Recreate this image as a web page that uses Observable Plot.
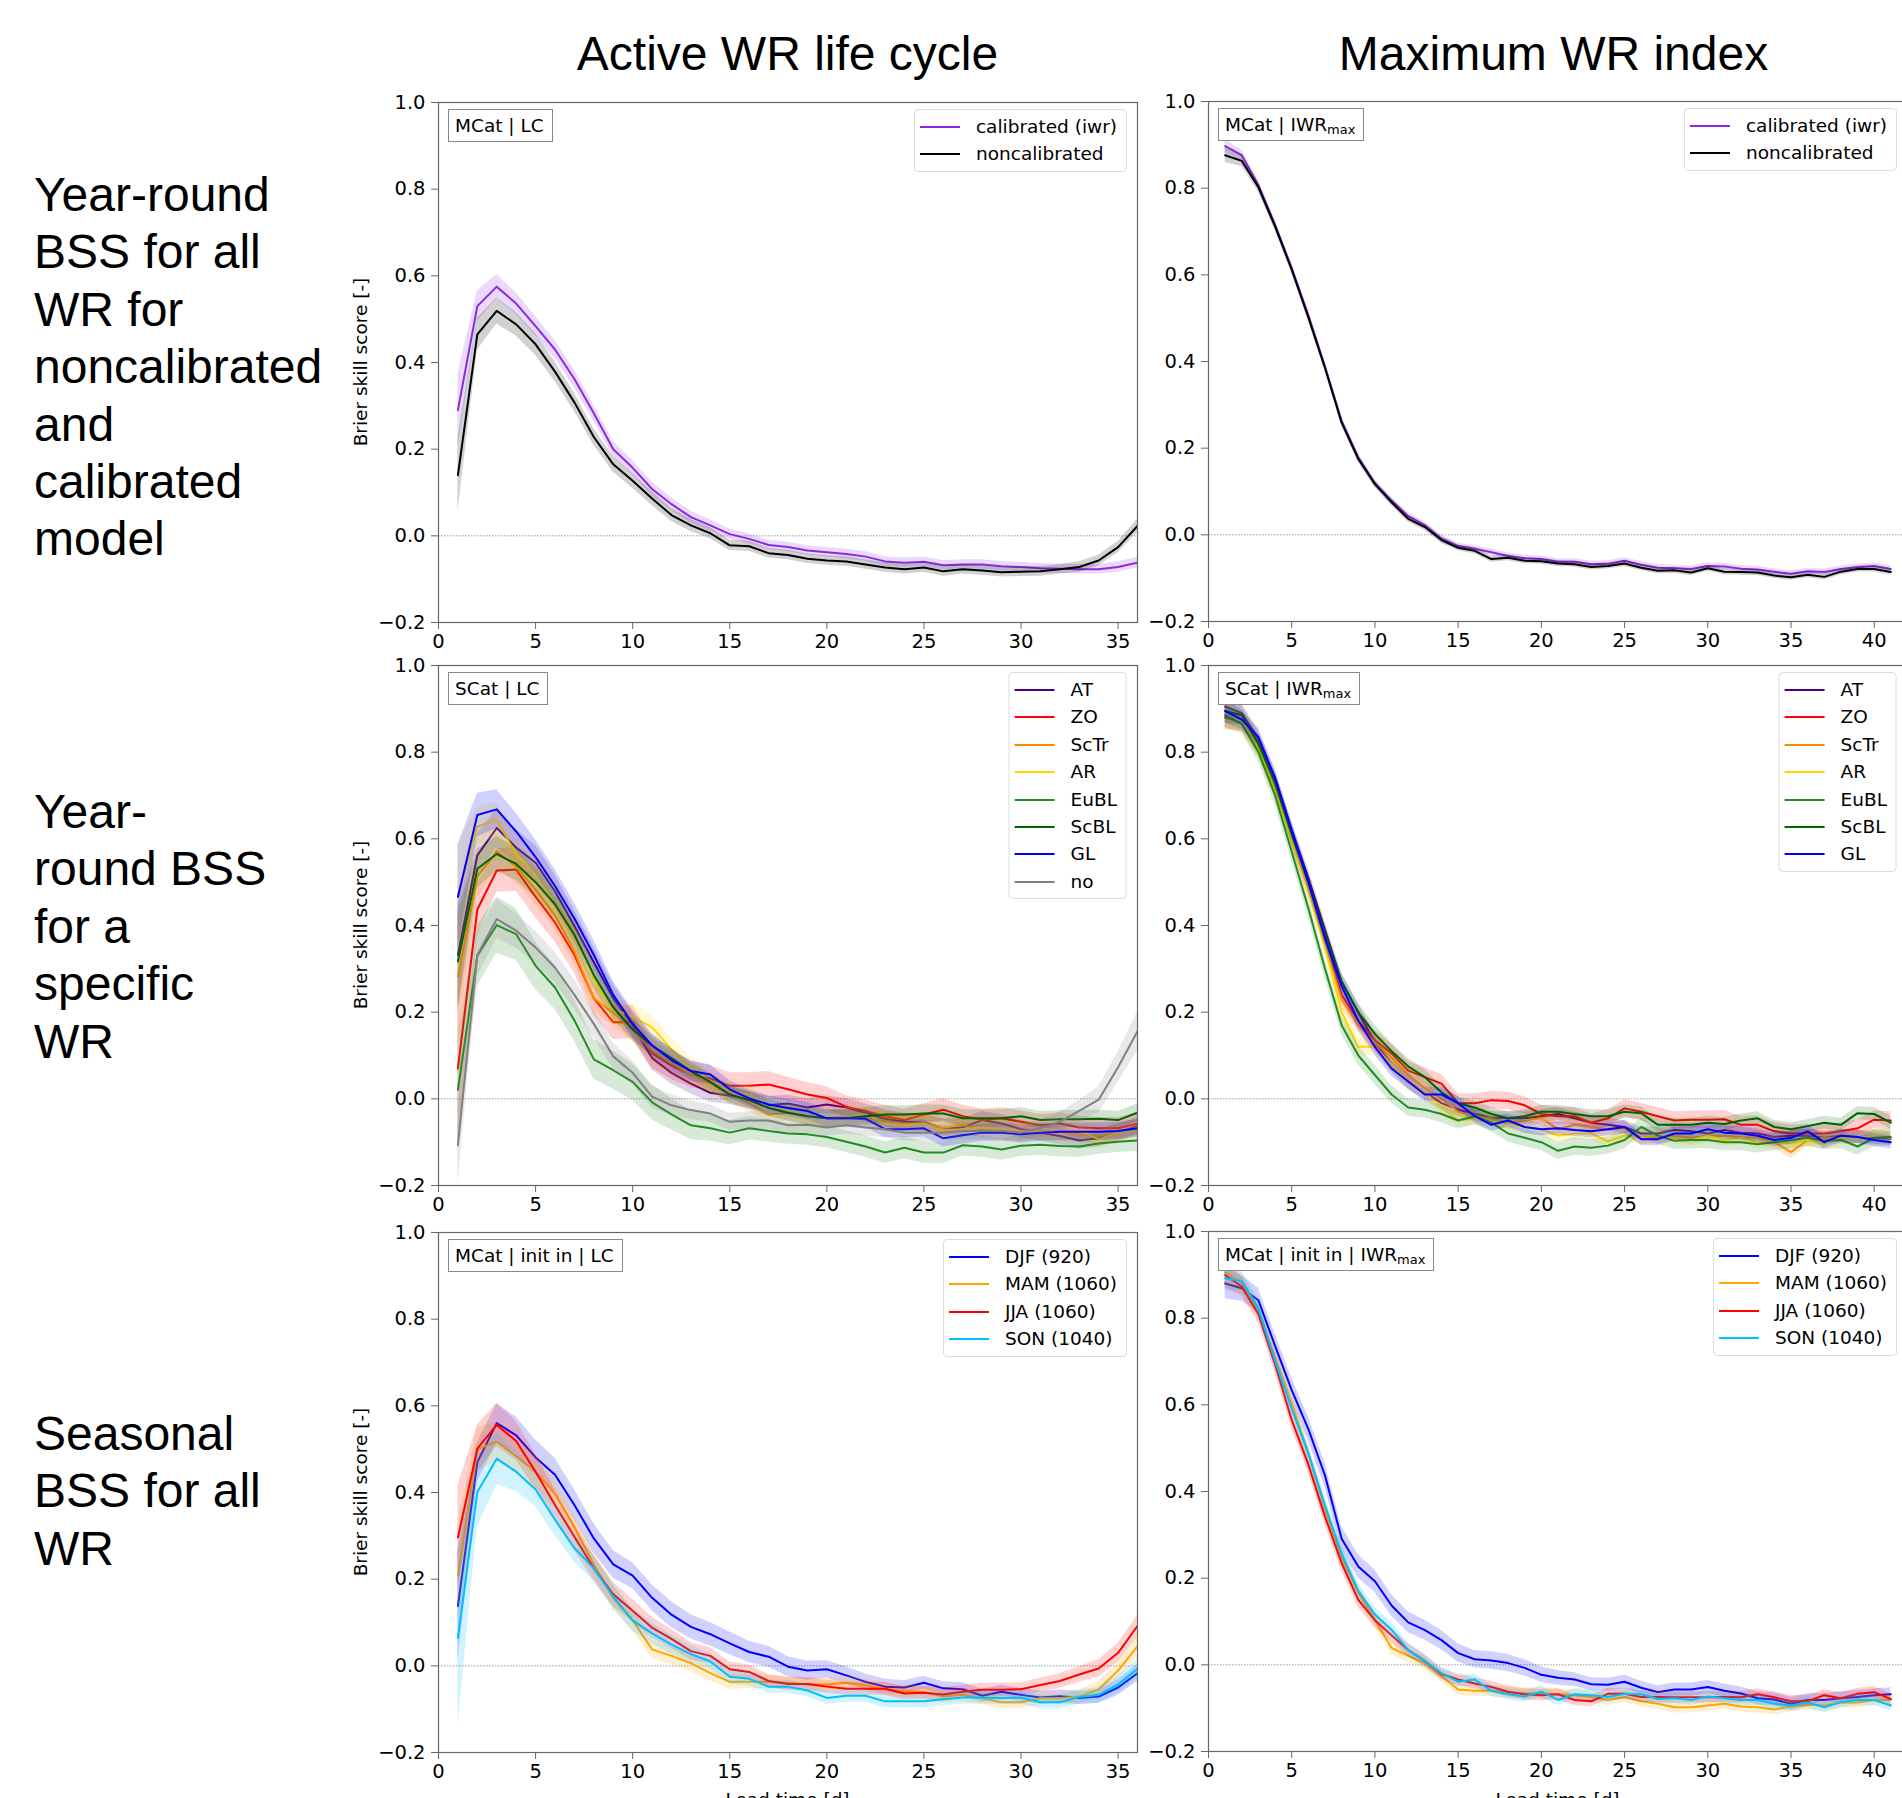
<!DOCTYPE html>
<html><head><meta charset="utf-8">
<script src="https://cdn.jsdelivr.net/npm/d3@7"></script>
<script src="https://cdn.jsdelivr.net/npm/@observablehq/plot@0.6"></script>
<style>
html,body{margin:0;padding:0;background:#fff;overflow:hidden;}
#fig{position:relative;width:1902px;height:1798px;overflow:hidden;background:#fff;font-family:"DejaVu Sans";color:#000;}
.abs{position:absolute;}
.title{font-family:"Liberation Sans";font-size:48px;line-height:48px;white-space:nowrap;transform:translateX(-50%);}
.rowlab{font-family:"Liberation Sans";font-size:48px;line-height:57.4px;white-space:nowrap;}
.note{border:1px solid #888;background:#fff;font-size:18.5px;line-height:21px;padding:5px 8px 5px 6px;white-space:nowrap;}
.note sub{font-size:13px;vertical-align:-3px;line-height:0;}
.legend{border:1px solid #dcdcdc;border-radius:4px;background:rgba(255,255,255,0.85);padding:3px 9px 3px 5px;font-size:18.5px;}
.legend .row{height:27.4px;line-height:27.4px;white-space:nowrap;}
.legend .sw{display:inline-block;width:40px;height:2px;vertical-align:middle;margin-right:16px;position:relative;top:-1px;}
.ylab{font-size:18.5px;white-space:nowrap;transform:translate(-50%,-50%) rotate(-90deg);}
.xlab{font-size:18.5px;line-height:18.5px;white-space:nowrap;transform:translateX(-50%);}
</style></head>
<body><div id="fig"></div>
<script>
// ---------------- data ----------------
const leadLC = [1,2,3,4,5,6,7,8,9,10,11,12,13,14,15,16,17,18,19,20,21,22,23,24,25,26,27,28,29,30,31,32,33,34,35,36];
const leadIWR = [1,2,3,4,5,6,7,8,9,10,11,12,13,14,15,16,17,18,19,20,21,22,23,24,25,26,27,28,29,30,31,32,33,34,35,36,37,38,39,40,41];
const xTicksLC = [0,5,10,15,20,25,30,35];
const xTicksIWR = [0,5,10,15,20,25,30,35,40];
const yTicks = [-0.2,0,0.2,0.4,0.6,0.8,1.0];

const colTitles = ["Active WR life cycle","Maximum WR index"];
const rowLabels = [
  ["Year-round","BSS for all","WR for","noncalibrated","and","calibrated","model"],
  ["Year-","round BSS","for a","specific","WR"],
  ["Seasonal","BSS for all","WR"]
];
const noteLC = ["MCat | LC","SCat | LC","MCat | init in | LC"];
const noteIWR = ["MCat | IWR<sub>max</sub>","SCat | IWR<sub>max</sub>","MCat | init in | IWR<sub>max</sub>"];
const yLabel = "Brier skill score [-]";
const xLabel = "Lead time [d]";

// Row 1: multi-category, calibrated vs noncalibrated
const calibNames = ["calibrated (iwr)","noncalibrated"];
const calibColors = ["#8a2be2","#000000"];
const lcCal = [0.29,0.53,0.575,0.536,0.484,0.43,0.362,0.283,0.2,0.157,0.108,0.073,0.043,0.024,0.004,-0.007,-0.021,-0.026,-0.034,-0.038,-0.042,-0.048,-0.059,-0.062,-0.06,-0.068,-0.066,-0.066,-0.07,-0.072,-0.075,-0.076,-0.077,-0.077,-0.072,-0.062];
const lcCalErr = [0.085,0.035,0.028,0.025,0.022,0.021,0.02,0.019,0.018,0.017,0.016,0.015,0.014,0.013,0.012,0.012,0.011,0.011,0.011,0.011,0.011,0.011,0.011,0.011,0.011,0.011,0.011,0.011,0.011,0.011,0.011,0.011,0.011,0.011,0.012,0.012];
const lcNon = [0.14,0.465,0.519,0.488,0.442,0.379,0.308,0.228,0.165,0.127,0.086,0.048,0.024,0.006,-0.022,-0.024,-0.04,-0.044,-0.053,-0.057,-0.059,-0.066,-0.073,-0.077,-0.073,-0.082,-0.077,-0.08,-0.084,-0.083,-0.082,-0.077,-0.072,-0.057,-0.026,0.023];
const lcNonErr = [0.085,0.037,0.03,0.027,0.025,0.023,0.021,0.019,0.018,0.017,0.016,0.015,0.014,0.013,0.012,0.012,0.011,0.011,0.011,0.011,0.011,0.011,0.011,0.011,0.011,0.011,0.011,0.011,0.011,0.011,0.011,0.011,0.012,0.012,0.013,0.015];
const iwrCal = [0.897,0.876,0.807,0.716,0.616,0.507,0.389,0.263,0.179,0.119,0.079,0.043,0.022,-0.009,-0.026,-0.032,-0.04,-0.049,-0.054,-0.056,-0.062,-0.062,-0.068,-0.067,-0.06,-0.069,-0.076,-0.077,-0.079,-0.072,-0.073,-0.078,-0.08,-0.085,-0.09,-0.084,-0.086,-0.079,-0.075,-0.072,-0.079];
const iwrCalErr = [0.015,0.012,0.01,0.01,0.009,0.009,0.008,0.008,0.008,0.008,0.008,0.008,0.008,0.008,0.007,0.007,0.007,0.007,0.007,0.007,0.007,0.007,0.007,0.007,0.007,0.007,0.007,0.007,0.007,0.007,0.007,0.007,0.007,0.007,0.007,0.007,0.007,0.007,0.007,0.007,0.007];
const iwrNon = [0.876,0.863,0.802,0.712,0.612,0.502,0.385,0.259,0.175,0.117,0.075,0.037,0.018,-0.012,-0.03,-0.037,-0.056,-0.053,-0.06,-0.061,-0.066,-0.068,-0.074,-0.072,-0.066,-0.076,-0.083,-0.082,-0.087,-0.077,-0.085,-0.086,-0.087,-0.094,-0.098,-0.092,-0.097,-0.085,-0.079,-0.079,-0.086];
const iwrNonErr = [0.017,0.013,0.011,0.01,0.009,0.009,0.008,0.008,0.008,0.008,0.008,0.008,0.008,0.008,0.007,0.007,0.007,0.007,0.007,0.007,0.007,0.007,0.007,0.007,0.007,0.007,0.007,0.007,0.007,0.007,0.007,0.007,0.007,0.007,0.007,0.007,0.007,0.007,0.007,0.007,0.007];

// Row 2: single category per weather regime
const regimeNames = ["AT","ZO","ScTr","AR","EuBL","ScBL","GL","no"];
const regimeColors = ["#4b0082","#ff0000","#ff8c00","#ffd700","#228b22","#006400","#0000ff","#808080"];
const lcAT = [0.332,0.562,0.625,0.58,0.545,0.479,0.399,0.315,0.232,0.169,0.094,0.06,0.035,0.014,0.007,-0.003,-0.015,-0.011,-0.02,-0.013,-0.02,-0.032,-0.046,-0.053,-0.055,-0.067,-0.066,-0.049,-0.057,-0.07,-0.078,-0.086,-0.096,-0.091,-0.078,-0.063];
const lcZO = [0.07,0.437,0.527,0.529,0.466,0.407,0.332,0.232,0.177,0.177,0.106,0.077,0.056,0.047,0.03,0.03,0.033,0.022,0.01,0.002,-0.018,-0.028,-0.04,-0.049,-0.036,-0.025,-0.04,-0.049,-0.045,-0.053,-0.061,-0.057,-0.066,-0.068,-0.068,-0.057];
const lcScTr = [0.282,0.513,0.571,0.536,0.483,0.424,0.34,0.232,0.198,0.16,0.11,0.081,0.056,0.035,0.01,-0.01,-0.036,-0.032,-0.04,-0.045,-0.045,-0.045,-0.051,-0.057,-0.057,-0.066,-0.061,-0.07,-0.074,-0.08,-0.074,-0.078,-0.082,-0.086,-0.078,-0.066];
const lcAR = [0.47,0.628,0.645,0.563,0.525,0.458,0.386,0.278,0.207,0.19,0.165,0.114,0.073,0.039,0.018,0.01,-0.02,-0.028,-0.04,-0.045,-0.04,-0.036,-0.057,-0.061,-0.057,-0.074,-0.07,-0.066,-0.07,-0.074,-0.076,-0.078,-0.074,-0.093,-0.078,-0.07];
const lcEuBL = [0.021,0.33,0.401,0.38,0.307,0.257,0.181,0.091,0.066,0.039,-0.008,-0.036,-0.061,-0.068,-0.078,-0.068,-0.074,-0.08,-0.082,-0.088,-0.099,-0.11,-0.124,-0.113,-0.124,-0.124,-0.107,-0.11,-0.117,-0.108,-0.106,-0.109,-0.11,-0.103,-0.099,-0.096];
const lcScBL = [0.317,0.531,0.565,0.542,0.5,0.449,0.378,0.286,0.211,0.16,0.123,0.094,0.064,0.039,0.01,-0.003,-0.021,-0.032,-0.04,-0.045,-0.045,-0.04,-0.036,-0.036,-0.034,-0.034,-0.045,-0.045,-0.045,-0.04,-0.049,-0.047,-0.047,-0.046,-0.049,-0.032];
const lcGL = [0.466,0.655,0.668,0.617,0.558,0.491,0.416,0.332,0.24,0.173,0.123,0.089,0.064,0.056,0.022,0.001,-0.013,-0.021,-0.028,-0.045,-0.045,-0.046,-0.07,-0.07,-0.068,-0.091,-0.084,-0.078,-0.078,-0.082,-0.078,-0.076,-0.076,-0.076,-0.074,-0.068];
const lcNo = [-0.107,0.332,0.415,0.388,0.349,0.303,0.24,0.173,0.098,0.06,0.005,-0.015,-0.026,-0.034,-0.053,-0.05,-0.05,-0.061,-0.06,-0.066,-0.061,-0.066,-0.07,-0.078,-0.078,-0.078,-0.074,-0.074,-0.074,-0.078,-0.068,-0.053,-0.028,-0.002,0.073,0.156];
const lcATErr = [0.12,0.05,0.045,0.04,0.04,0.038,0.036,0.034,0.032,0.03,0.028,0.026,0.024,0.022,0.02,0.02,0.02,0.02,0.02,0.02,0.02,0.02,0.02,0.02,0.02,0.02,0.02,0.02,0.02,0.02,0.02,0.02,0.02,0.02,0.02,0.02];
const lcZOErr = [0.2,0.06,0.05,0.05,0.048,0.045,0.042,0.04,0.04,0.038,0.035,0.033,0.03,0.03,0.03,0.03,0.03,0.028,0.027,0.026,0.025,0.025,0.025,0.025,0.025,0.025,0.025,0.025,0.025,0.025,0.025,0.025,0.025,0.025,0.025,0.025];
const lcScTrErr = [0.14,0.05,0.04,0.038,0.036,0.034,0.032,0.03,0.03,0.028,0.026,0.024,0.022,0.02,0.02,0.02,0.02,0.02,0.02,0.02,0.02,0.02,0.02,0.02,0.02,0.02,0.02,0.02,0.02,0.02,0.02,0.02,0.02,0.02,0.02,0.02];
const lcARErr = [0.12,0.045,0.04,0.038,0.036,0.034,0.032,0.03,0.03,0.03,0.028,0.026,0.024,0.022,0.02,0.02,0.02,0.02,0.02,0.02,0.02,0.02,0.02,0.02,0.02,0.02,0.02,0.02,0.02,0.02,0.02,0.02,0.02,0.02,0.02,0.02];
const lcEuBLErr = [0.13,0.07,0.065,0.06,0.055,0.05,0.048,0.046,0.044,0.042,0.04,0.036,0.033,0.03,0.028,0.027,0.026,0.025,0.025,0.025,0.025,0.025,0.025,0.025,0.025,0.025,0.025,0.025,0.025,0.025,0.025,0.025,0.025,0.025,0.025,0.025];
const lcScBLErr = [0.12,0.045,0.04,0.038,0.036,0.034,0.032,0.03,0.028,0.026,0.024,0.022,0.02,0.02,0.02,0.02,0.02,0.02,0.02,0.02,0.02,0.02,0.02,0.02,0.02,0.02,0.02,0.02,0.02,0.02,0.02,0.02,0.02,0.02,0.02,0.02];
const lcGLErr = [0.12,0.05,0.045,0.042,0.04,0.038,0.036,0.034,0.032,0.03,0.028,0.026,0.024,0.022,0.02,0.02,0.02,0.02,0.02,0.02,0.02,0.02,0.02,0.02,0.02,0.02,0.02,0.02,0.02,0.02,0.02,0.02,0.02,0.02,0.02,0.02];
const lcNoErr = [0.09,0.05,0.045,0.04,0.038,0.036,0.034,0.032,0.03,0.028,0.026,0.024,0.022,0.02,0.02,0.02,0.02,0.02,0.02,0.02,0.02,0.02,0.02,0.02,0.02,0.02,0.02,0.02,0.02,0.02,0.02,0.022,0.025,0.03,0.035,0.045];

const iwrAT = [0.905,0.89,0.83,0.74,0.62,0.51,0.39,0.27,0.2,0.13,0.08,0.04,0.015,-0.01,-0.025,-0.035,-0.043,-0.045,-0.045,-0.04,-0.035,-0.045,-0.055,-0.06,-0.065,-0.08,-0.08,-0.072,-0.075,-0.08,-0.072,-0.078,-0.08,-0.088,-0.085,-0.085,-0.09,-0.085,-0.088,-0.09,-0.092];
const iwrZO = [0.88,0.87,0.81,0.72,0.6,0.49,0.37,0.24,0.18,0.135,0.105,0.065,0.05,0.035,-0.01,-0.01,-0.003,-0.005,-0.015,-0.035,-0.04,-0.04,-0.055,-0.045,-0.022,-0.03,-0.04,-0.05,-0.048,-0.048,-0.047,-0.06,-0.06,-0.075,-0.08,-0.08,-0.08,-0.075,-0.068,-0.048,-0.05];
const iwrScTr = [0.885,0.87,0.82,0.72,0.6,0.49,0.36,0.23,0.17,0.13,0.095,0.055,0.025,0.0,-0.03,-0.04,-0.045,-0.055,-0.05,-0.045,-0.07,-0.06,-0.065,-0.07,-0.068,-0.09,-0.09,-0.085,-0.09,-0.085,-0.085,-0.088,-0.09,-0.1,-0.123,-0.095,-0.09,-0.09,-0.088,-0.085,-0.09];
const iwrAR = [0.885,0.87,0.81,0.71,0.6,0.48,0.35,0.2,0.12,0.12,0.08,0.04,0.015,-0.02,-0.05,-0.045,-0.05,-0.055,-0.065,-0.07,-0.085,-0.08,-0.08,-0.098,-0.085,-0.09,-0.085,-0.09,-0.095,-0.085,-0.095,-0.09,-0.1,-0.1,-0.103,-0.095,-0.103,-0.09,-0.09,-0.085,-0.09];
const iwrEuBL = [0.885,0.865,0.8,0.7,0.57,0.44,0.3,0.17,0.1,0.055,0.01,-0.02,-0.025,-0.035,-0.05,-0.04,-0.055,-0.08,-0.09,-0.1,-0.12,-0.11,-0.113,-0.108,-0.095,-0.065,-0.085,-0.097,-0.095,-0.095,-0.1,-0.1,-0.105,-0.1,-0.095,-0.09,-0.097,-0.095,-0.11,-0.09,-0.088];
const iwrScBL = [0.895,0.885,0.82,0.73,0.61,0.5,0.38,0.27,0.2,0.15,0.11,0.075,0.05,0.015,-0.01,-0.02,-0.035,-0.045,-0.04,-0.03,-0.03,-0.035,-0.04,-0.04,-0.03,-0.033,-0.06,-0.06,-0.06,-0.055,-0.058,-0.05,-0.045,-0.065,-0.07,-0.063,-0.055,-0.06,-0.033,-0.035,-0.055];
const iwrGL = [0.895,0.875,0.835,0.74,0.62,0.5,0.37,0.26,0.18,0.12,0.07,0.04,0.01,0.01,-0.01,-0.04,-0.06,-0.05,-0.065,-0.07,-0.068,-0.072,-0.075,-0.07,-0.065,-0.093,-0.093,-0.08,-0.08,-0.07,-0.078,-0.08,-0.085,-0.095,-0.09,-0.075,-0.1,-0.085,-0.088,-0.095,-0.1];
const iwrRegErr = [0.028,0.022,0.02,0.02,0.02,0.02,0.02,0.02,0.02,0.02,0.018,0.018,0.017,0.016,0.015,0.015,0.015,0.015,0.015,0.015,0.015,0.015,0.015,0.015,0.015,0.015,0.015,0.015,0.015,0.015,0.015,0.015,0.015,0.015,0.015,0.015,0.015,0.015,0.015,0.015,0.015];
const iwrZOErr = [0.028,0.022,0.02,0.02,0.02,0.02,0.02,0.02,0.022,0.022,0.022,0.022,0.022,0.022,0.022,0.022,0.02,0.02,0.02,0.02,0.02,0.02,0.02,0.02,0.02,0.02,0.02,0.02,0.02,0.02,0.02,0.02,0.02,0.02,0.02,0.02,0.02,0.02,0.02,0.02,0.02];
const iwrEuBLErr = [0.028,0.022,0.022,0.022,0.022,0.022,0.022,0.022,0.022,0.022,0.02,0.02,0.02,0.02,0.02,0.02,0.02,0.02,0.02,0.02,0.02,0.02,0.02,0.02,0.02,0.02,0.02,0.02,0.02,0.02,0.02,0.02,0.02,0.02,0.02,0.02,0.02,0.02,0.02,0.02,0.02];

// Row 3: seasons of initialisation
const seasonNames = ["DJF (920)","MAM (1060)","JJA (1060)","SON (1040)"];
const seasonColors = ["#0000ff","#ffa500","#ff0000","#00bfff"];
const lcDJF = [0.138,0.47,0.56,0.532,0.481,0.441,0.371,0.294,0.234,0.208,0.157,0.118,0.09,0.073,0.052,0.032,0.021,-0.002,-0.011,-0.008,-0.022,-0.037,-0.048,-0.05,-0.039,-0.052,-0.054,-0.069,-0.06,-0.067,-0.073,-0.07,-0.074,-0.071,-0.05,-0.017];
const lcMAM = [0.208,0.5,0.517,0.484,0.448,0.397,0.32,0.234,0.157,0.105,0.038,0.023,0.006,-0.017,-0.037,-0.037,-0.037,-0.039,-0.043,-0.043,-0.039,-0.045,-0.054,-0.058,-0.061,-0.071,-0.067,-0.075,-0.084,-0.084,-0.075,-0.075,-0.071,-0.054,-0.011,0.045];
const lcJJA = [0.296,0.501,0.556,0.519,0.448,0.371,0.298,0.225,0.165,0.127,0.088,0.062,0.034,0.023,-0.008,-0.014,-0.035,-0.042,-0.042,-0.048,-0.053,-0.053,-0.053,-0.064,-0.062,-0.066,-0.06,-0.055,-0.055,-0.054,-0.044,-0.035,-0.02,-0.006,0.03,0.092];
const lcSON = [0.064,0.401,0.478,0.448,0.407,0.337,0.272,0.225,0.16,0.105,0.075,0.049,0.027,0.01,-0.025,-0.03,-0.048,-0.048,-0.057,-0.074,-0.069,-0.069,-0.082,-0.082,-0.082,-0.077,-0.073,-0.073,-0.075,-0.073,-0.084,-0.084,-0.072,-0.067,-0.043,-0.007];
const lcDJFErr = [0.13,0.045,0.045,0.042,0.04,0.038,0.036,0.034,0.032,0.03,0.03,0.03,0.028,0.027,0.026,0.025,0.024,0.023,0.022,0.02,0.02,0.018,0.017,0.016,0.015,0.015,0.015,0.015,0.015,0.015,0.015,0.015,0.015,0.016,0.018,0.02];
const lcMAMErr = [0.12,0.05,0.045,0.04,0.036,0.033,0.03,0.028,0.026,0.024,0.022,0.02,0.02,0.018,0.017,0.016,0.015,0.015,0.015,0.015,0.015,0.015,0.015,0.015,0.015,0.015,0.015,0.015,0.015,0.015,0.015,0.015,0.016,0.018,0.02,0.025];
const lcJJAErr = [0.12,0.055,0.05,0.045,0.04,0.036,0.033,0.03,0.028,0.026,0.024,0.022,0.02,0.018,0.017,0.016,0.015,0.015,0.015,0.015,0.015,0.015,0.015,0.015,0.015,0.015,0.015,0.015,0.015,0.015,0.016,0.017,0.018,0.02,0.022,0.025];
const lcSONErr = [0.2,0.08,0.06,0.045,0.04,0.036,0.033,0.03,0.028,0.026,0.024,0.022,0.02,0.018,0.017,0.016,0.015,0.015,0.015,0.015,0.015,0.015,0.015,0.015,0.015,0.015,0.015,0.015,0.015,0.015,0.015,0.015,0.016,0.018,0.02,0.022];

const iwrDJF = [0.88,0.869,0.841,0.736,0.634,0.544,0.437,0.291,0.227,0.193,0.137,0.098,0.08,0.057,0.027,0.013,0.01,0.004,-0.007,-0.023,-0.03,-0.034,-0.045,-0.046,-0.039,-0.053,-0.063,-0.057,-0.057,-0.051,-0.06,-0.066,-0.077,-0.08,-0.09,-0.081,-0.081,-0.077,-0.074,-0.07,-0.068];
const iwrMAM = [0.905,0.882,0.818,0.711,0.604,0.488,0.36,0.248,0.167,0.103,0.039,0.021,0.004,-0.026,-0.057,-0.06,-0.06,-0.064,-0.066,-0.066,-0.068,-0.07,-0.074,-0.081,-0.074,-0.084,-0.09,-0.098,-0.098,-0.094,-0.09,-0.096,-0.098,-0.103,-0.096,-0.092,-0.094,-0.087,-0.087,-0.081,-0.081];
const iwrJJA = [0.899,0.873,0.809,0.693,0.565,0.462,0.342,0.235,0.15,0.103,0.068,0.034,0.009,-0.021,-0.034,-0.043,-0.051,-0.062,-0.068,-0.07,-0.068,-0.081,-0.084,-0.067,-0.067,-0.074,-0.074,-0.075,-0.075,-0.075,-0.074,-0.075,-0.068,-0.075,-0.084,-0.084,-0.07,-0.077,-0.067,-0.063,-0.079];
const iwrSON = [0.892,0.886,0.822,0.702,0.591,0.488,0.368,0.257,0.171,0.116,0.081,0.034,0.009,-0.019,-0.039,-0.034,-0.06,-0.068,-0.073,-0.062,-0.081,-0.068,-0.07,-0.074,-0.067,-0.068,-0.079,-0.077,-0.081,-0.073,-0.077,-0.081,-0.081,-0.09,-0.094,-0.087,-0.098,-0.086,-0.081,-0.081,-0.094];
const iwrDJFErr = [0.035,0.03,0.028,0.028,0.028,0.028,0.028,0.028,0.027,0.026,0.025,0.024,0.023,0.022,0.021,0.02,0.02,0.02,0.019,0.018,0.017,0.016,0.015,0.015,0.015,0.015,0.015,0.015,0.015,0.015,0.015,0.015,0.015,0.015,0.015,0.015,0.015,0.015,0.015,0.015,0.015];
const iwrSeasonErr = [0.03,0.022,0.02,0.02,0.02,0.02,0.02,0.019,0.018,0.017,0.016,0.015,0.014,0.013,0.013,0.013,0.013,0.013,0.013,0.013,0.013,0.013,0.013,0.013,0.013,0.013,0.013,0.013,0.013,0.013,0.013,0.013,0.013,0.013,0.013,0.013,0.013,0.013,0.013,0.013,0.013];

// ---------------- layout ----------------
const fig = document.getElementById("fig");
function div(cls, html, style) {
  const d = document.createElement("div");
  d.className = "abs " + cls;
  d.innerHTML = html;
  Object.assign(d.style, style);
  fig.appendChild(d);
  return d;
}

const PW = 699, PH = 520, ML = 100, MT = 10, MR = 10, MB = 40;
const colLeft = [438, 1208];
const rowTop = [[102, 101], [665, 665], [1232, 1231]];

function makeSeries(names, colors, vals, errs) {
  return names.map((n, i) => ({name: n, color: colors[i], values: vals[i], err: errs[i]}));
}

const panels = [
  {r:0, c:0, lead: leadLC, xMax: 36, xTicks: xTicksLC, note: noteLC[0],
   series: makeSeries(calibNames, calibColors, [lcCal, lcNon], [lcCalErr, lcNonErr])},
  {r:0, c:1, lead: leadIWR, xMax: 42, xTicks: xTicksIWR, note: noteIWR[0],
   series: makeSeries(calibNames, calibColors, [iwrCal, iwrNon], [iwrCalErr, iwrNonErr])},
  {r:1, c:0, lead: leadLC, xMax: 36, xTicks: xTicksLC, note: noteLC[1],
   series: makeSeries(regimeNames, regimeColors,
     [lcAT, lcZO, lcScTr, lcAR, lcEuBL, lcScBL, lcGL, lcNo],
     [lcATErr, lcZOErr, lcScTrErr, lcARErr, lcEuBLErr, lcScBLErr, lcGLErr, lcNoErr])},
  {r:1, c:1, lead: leadIWR, xMax: 42, xTicks: xTicksIWR, note: noteIWR[1],
   series: makeSeries(regimeNames.slice(0, 7), regimeColors.slice(0, 7),
     [iwrAT, iwrZO, iwrScTr, iwrAR, iwrEuBL, iwrScBL, iwrGL],
     [iwrRegErr, iwrZOErr, iwrRegErr, iwrRegErr, iwrEuBLErr, iwrRegErr, iwrRegErr])},
  {r:2, c:0, lead: leadLC, xMax: 36, xTicks: xTicksLC, note: noteLC[2],
   series: makeSeries(seasonNames, seasonColors, [lcDJF, lcMAM, lcJJA, lcSON], [lcDJFErr, lcMAMErr, lcJJAErr, lcSONErr])},
  {r:2, c:1, lead: leadIWR, xMax: 42, xTicks: xTicksIWR, note: noteIWR[2],
   series: makeSeries(seasonNames, seasonColors, [iwrDJF, iwrMAM, iwrJJA, iwrSON], [iwrDJFErr, iwrSeasonErr, iwrSeasonErr, iwrSeasonErr])}
];

for (const p of panels) {
  const plotLeft = colLeft[p.c], plotTop = rowTop[p.r][p.c];
  const marks = [
    Plot.ruleY([0], {stroke: "#9a9a9a", strokeWidth: 1, strokeDasharray: "1.5,1.5"})
  ];
  for (const s of p.series) {
    const rows = p.lead.map((x, i) => ({x, y: s.values[i], lo: s.values[i] - s.err[i], hi: s.values[i] + s.err[i]}));
    marks.push(Plot.areaY(rows, {x: "x", y1: "lo", y2: "hi", fill: s.color, fillOpacity: 0.18, clip: true}));
    marks.push(Plot.lineY(rows, {x: "x", y: "y", stroke: s.color, strokeWidth: 2, clip: true}));
  }
  marks.push(Plot.frame({stroke: "#666", strokeWidth: 1.2}));
  marks.push(Plot.axisX({ticks: p.xTicks, tickSize: 7, tickPadding: 5, stroke: "#666", fill: "#000", fontSize: 19.5, label: null}));
  marks.push(Plot.axisY({ticks: yTicks, tickFormat: d3.format(".1f"), tickSize: 7, tickPadding: 6, stroke: "#666", fill: "#000", fontSize: 19.5, label: null}));
  const chart = Plot.plot({
    width: ML + PW + MR, height: MT + PH + MB,
    marginLeft: ML, marginTop: MT, marginRight: MR, marginBottom: MB,
    x: {domain: [0, p.xMax]},
    y: {domain: [-0.2, 1.0]},
    style: {fontFamily: "DejaVu Sans", fontSize: "19.5px", color: "#000", background: "transparent", overflow: "visible"},
    marks
  });
  chart.style.position = "absolute";
  chart.style.left = (plotLeft - ML) + "px";
  chart.style.top = (plotTop - MT) + "px";
  fig.appendChild(chart);

  // annotation box
  div("note", p.note, {left: (plotLeft + 10) + "px", top: (plotTop + 7) + "px"});
  // legend
  div("legend", p.series.map(s =>
      `<div class="row"><span class="sw" style="background:${s.color}"></span>${s.name}</div>`).join(""),
    {left: (plotLeft + PW - 10) + "px", top: (plotTop + 7) + "px", transform: "translateX(-100%)"});
  // y label (left column only)
  if (p.c === 0) div("ylab", yLabel, {left: "360px", top: (plotTop + PH / 2) + "px"});
  // x label (bottom row only, cut by the figure edge as in the original)
  if (p.r === 2) div("xlab", xLabel, {left: (plotLeft + PW / 2) + "px", top: "1791px"});
}

// column titles
div("title", colTitles[0], {left: (colLeft[0] + PW / 2) + "px", top: "30px"});
div("title", colTitles[1], {left: (colLeft[1] + PW / 2 - 4) + "px", top: "30px"});
// row labels
const rowLabelTop = [166, 783, 1405];
rowLabels.forEach((lines, i) => {
  div("rowlab", lines.join("<br>"), {left: "34px", top: rowLabelTop[i] + "px"});
});
</script>
</body></html>
